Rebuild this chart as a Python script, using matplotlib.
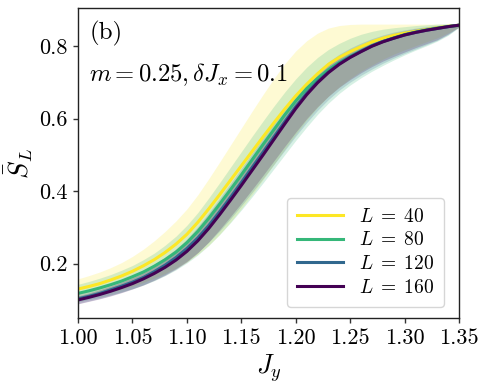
import numpy as np
import matplotlib
matplotlib.use("Agg")
import matplotlib.pyplot as plt

plt.rcParams['font.family'] = 'serif'
plt.rcParams['font.serif'] = ['cmr10', 'DejaVu Serif']
plt.rcParams['mathtext.fontset'] = 'cm'
plt.rcParams['axes.unicode_minus'] = False
plt.rcParams['axes.formatter.use_mathtext'] = True

Jy = [1.00, 1.01, 1.02, 1.03, 1.04, 1.05, 1.06, 1.07, 1.08, 1.09,
      1.10, 1.11, 1.12, 1.13, 1.14, 1.15, 1.16, 1.17, 1.18, 1.19,
      1.20, 1.21, 1.22, 1.23, 1.24, 1.25, 1.26, 1.27, 1.28, 1.29,
      1.30, 1.31, 1.32, 1.33, 1.34, 1.35]

sizes = [40, 80, 120, 160]
colors = ['#fde725', '#35b779', '#31688e', '#440154']

# mean curves
S_L40 = [0.130, 0.137, 0.145, 0.155, 0.166, 0.179, 0.194, 0.211, 0.231, 0.254,
         0.281, 0.314, 0.351, 0.390, 0.430, 0.470, 0.510, 0.550, 0.589, 0.627,
         0.663, 0.695, 0.724, 0.750, 0.769, 0.785, 0.799, 0.812, 0.822, 0.830,
         0.836, 0.841, 0.846, 0.851, 0.855, 0.858]
S_L80 = [0.118, 0.125, 0.133, 0.142, 0.152, 0.164, 0.177, 0.193, 0.211, 0.232,
         0.258, 0.289, 0.325, 0.364, 0.404, 0.445, 0.487, 0.529, 0.570, 0.611,
         0.649, 0.683, 0.711, 0.735, 0.755, 0.772, 0.787, 0.801, 0.813, 0.823,
         0.832, 0.839, 0.845, 0.850, 0.854, 0.858]
S_L120 = [0.103, 0.110, 0.118, 0.128, 0.138, 0.149, 0.162, 0.178, 0.196, 0.217,
          0.242, 0.271, 0.305, 0.343, 0.383, 0.424, 0.466, 0.508, 0.550, 0.592,
          0.633, 0.670, 0.702, 0.729, 0.752, 0.770, 0.786, 0.801, 0.813, 0.822,
          0.831, 0.838, 0.844, 0.849, 0.854, 0.858]
S_L160 = [0.100, 0.107, 0.115, 0.124, 0.134, 0.145, 0.158, 0.173, 0.190, 0.210,
          0.234, 0.263, 0.297, 0.335, 0.375, 0.416, 0.458, 0.500, 0.543, 0.586,
          0.628, 0.666, 0.699, 0.727, 0.750, 0.769, 0.785, 0.800, 0.812, 0.822,
          0.831, 0.838, 0.844, 0.849, 0.854, 0.858]

# band edges (upper / lower)
hi_L40 = [0.158, 0.167, 0.177, 0.189, 0.203, 0.220, 0.240, 0.263, 0.289, 0.318,
          0.351, 0.390, 0.434, 0.480, 0.527, 0.574, 0.621, 0.667, 0.711, 0.752,
          0.787, 0.815, 0.836, 0.850, 0.857, 0.860, 0.861, 0.861, 0.861, 0.861,
          0.861, 0.861, 0.861, 0.861, 0.861, 0.861]
lo_L40 = [0.102, 0.108, 0.114, 0.121, 0.129, 0.138, 0.148, 0.160, 0.173, 0.188,
          0.205, 0.226, 0.251, 0.281, 0.315, 0.352, 0.391, 0.432, 0.474, 0.516,
          0.557, 0.596, 0.631, 0.662, 0.688, 0.711, 0.731, 0.748, 0.764, 0.778,
          0.790, 0.801, 0.812, 0.823, 0.837, 0.853]
hi_L80 = [0.143, 0.151, 0.160, 0.170, 0.182, 0.195, 0.211, 0.229, 0.251, 0.276,
          0.306, 0.341, 0.381, 0.423, 0.466, 0.509, 0.552, 0.594, 0.635, 0.674,
          0.710, 0.742, 0.769, 0.791, 0.808, 0.822, 0.833, 0.841, 0.847, 0.851,
          0.854, 0.857, 0.859, 0.861, 0.862, 0.862]
lo_L80 = [0.095, 0.101, 0.107, 0.114, 0.122, 0.131, 0.141, 0.153, 0.167, 0.183,
          0.202, 0.224, 0.250, 0.280, 0.313, 0.348, 0.385, 0.423, 0.462, 0.501,
          0.540, 0.577, 0.612, 0.643, 0.670, 0.693, 0.713, 0.731, 0.747, 0.762,
          0.776, 0.789, 0.801, 0.814, 0.830, 0.852]
hi_L120 = [0.117, 0.125, 0.134, 0.144, 0.155, 0.167, 0.181, 0.198, 0.218, 0.241,
           0.268, 0.302, 0.340, 0.380, 0.421, 0.463, 0.505, 0.547, 0.588, 0.628,
           0.667, 0.701, 0.731, 0.757, 0.778, 0.795, 0.809, 0.821, 0.831, 0.839,
           0.845, 0.850, 0.854, 0.857, 0.859, 0.861]
lo_L120 = [0.090, 0.097, 0.104, 0.112, 0.121, 0.131, 0.142, 0.155, 0.170, 0.187,
           0.207, 0.231, 0.259, 0.290, 0.324, 0.360, 0.397, 0.435, 0.474, 0.513,
           0.552, 0.589, 0.623, 0.653, 0.679, 0.701, 0.720, 0.737, 0.753, 0.767,
           0.780, 0.792, 0.804, 0.816, 0.832, 0.853]
hi_L160 = [0.111, 0.119, 0.128, 0.138, 0.149, 0.161, 0.175, 0.191, 0.210, 0.232,
           0.258, 0.290, 0.327, 0.367, 0.408, 0.450, 0.492, 0.534, 0.576, 0.617,
           0.656, 0.691, 0.721, 0.747, 0.769, 0.787, 0.802, 0.815, 0.826, 0.835,
           0.842, 0.848, 0.852, 0.856, 0.858, 0.860]
lo_L160 = [0.089, 0.096, 0.103, 0.111, 0.120, 0.130, 0.141, 0.154, 0.168, 0.185,
           0.205, 0.230, 0.260, 0.294, 0.330, 0.367, 0.405, 0.444, 0.484, 0.524,
           0.563, 0.600, 0.633, 0.662, 0.687, 0.708, 0.727, 0.744, 0.759, 0.772,
           0.784, 0.796, 0.807, 0.818, 0.834, 0.853]

means = [S_L40, S_L80, S_L120, S_L160]
highs = [hi_L40, hi_L80, hi_L120, hi_L160]
lows = [lo_L40, lo_L80, lo_L120, lo_L160]

fig = plt.figure(figsize=(4.88, 3.89), dpi=100)
ax = fig.add_axes([0.160, 0.1825, 0.7806, 0.7965])

for c, lo, hi in zip(colors, lows, highs):
    ax.fill_between(Jy, lo, hi, color=c, alpha=0.2, linewidth=0)
for L, c, m in zip(sizes, colors, means):
    ax.plot(Jy, m, color=c, lw=2.2, label=r'$L\;=\;%d$' % L)

ax.set_xlim(1.0, 1.35)
ax.set_ylim(0.05, 0.905)
ax.set_xticks([1.00, 1.05, 1.10, 1.15, 1.20, 1.25, 1.30, 1.35])
ax.set_xticklabels(['1.00', '1.05', '1.10', '1.15', '1.20', '1.25', '1.30', '1.35'])
ax.set_yticks([0.2, 0.4, 0.6, 0.8])
ax.set_yticklabels(['0.2', '0.4', '0.6', '0.8'])
ax.tick_params(labelsize=16, length=3.5, width=1, color='#333333', pad=4)
for sp in ax.spines.values():
    sp.set_color('#222222')
    sp.set_linewidth(1.0)

ax.set_xlabel(r'$J_y$', fontsize=19, labelpad=3)
ax.set_ylabel(r'$\bar{S}_L$', fontsize=19, labelpad=3)

ax.text(0.03, 0.958, '(b)', transform=ax.transAxes, fontsize=18, va='top', ha='left')
ann = ax.text(0.028, 0.784, r'$m=0.25,\delta J_x=0.1$', transform=ax.transAxes,
              fontsize=18, va='center', ha='left')

leg = ax.legend(loc='lower right', fontsize=14, frameon=True, fancybox=True,
                handlelength=2.4, handletextpad=0.8, borderpad=0.5,
                labelspacing=0.3, bbox_to_anchor=(0.985, 0.005))
leg.get_frame().set_edgecolor('#cccccc')

# size the annotation to span the same width as in the reference (~199 px)
fig.canvas.draw()
w = ann.get_window_extent().width
fs = 18 * 199.0 / w
ann.set_fontsize(max(16.0, min(fs, 20.5)))

fig.savefig('out.png', dpi=100)
